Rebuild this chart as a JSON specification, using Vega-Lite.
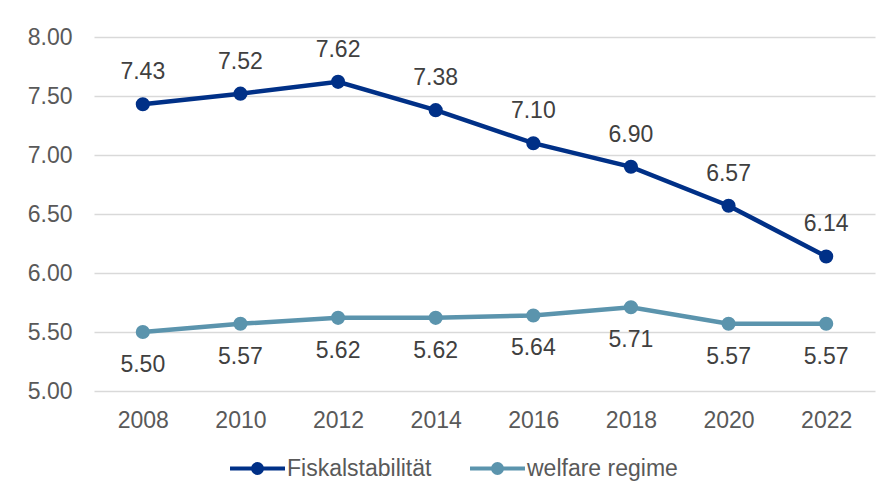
{
  "$schema": "https://vega.github.io/schema/vega-lite/v6.json",
  "width": 781,
  "height": 354,
  "autosize": "none",
  "padding": {"left": 94, "top": 37, "right": 17, "bottom": 113},
  "background": "white",
  "config": {
    "view": {"stroke": null},
    "font": "Liberation Sans",
    "text": {"font": "Liberation Sans"}
  },
  "data": {
    "values": [
      {"year": "2008", "series": "Fiskalstabilität", "value": 7.43},
      {"year": "2010", "series": "Fiskalstabilität", "value": 7.52},
      {"year": "2012", "series": "Fiskalstabilität", "value": 7.62},
      {"year": "2014", "series": "Fiskalstabilität", "value": 7.38},
      {"year": "2016", "series": "Fiskalstabilität", "value": 7.10},
      {"year": "2018", "series": "Fiskalstabilität", "value": 6.90},
      {"year": "2020", "series": "Fiskalstabilität", "value": 6.57},
      {"year": "2022", "series": "Fiskalstabilität", "value": 6.14},
      {"year": "2008", "series": "welfare regime", "value": 5.50},
      {"year": "2010", "series": "welfare regime", "value": 5.57},
      {"year": "2012", "series": "welfare regime", "value": 5.62},
      {"year": "2014", "series": "welfare regime", "value": 5.62},
      {"year": "2016", "series": "welfare regime", "value": 5.64},
      {"year": "2018", "series": "welfare regime", "value": 5.71},
      {"year": "2020", "series": "welfare regime", "value": 5.57},
      {"year": "2022", "series": "welfare regime", "value": 5.57}
    ]
  },
  "encoding": {
    "x": {
      "field": "year", "type": "ordinal",
      "scale": {"type": "point", "padding": 0.5},
      "axis": {
        "title": null, "labelAngle": 0, "domain": false, "ticks": false,
        "labelFont": "Liberation Sans", "labelFontSize": 23, "labelColor": "#595959",
        "labelPadding": 18, "grid": false
      }
    },
    "y": {
      "field": "value", "type": "quantitative",
      "scale": {"domain": [5, 8], "nice": false, "zero": false},
      "axis": {
        "title": null, "values": [5, 5.5, 6, 6.5, 7, 7.5, 8], "format": ".2f",
        "domain": false, "ticks": false,
        "labelFont": "Liberation Sans", "labelFontSize": 23, "labelColor": "#595959",
        "labelPadding": 22, "gridColor": "#d9d9d9", "gridWidth": 1.5
      }
    },
    "color": {
      "field": "series", "type": "nominal",
      "scale": {"domain": ["Fiskalstabilität", "welfare regime"], "range": ["#003087", "#5b94ad"]},
      "legend": {
        "title": null, "orient": "none", "direction": "horizontal",
        "legendX": 152, "legendY": 420, "padding": 0,
        "symbolType": "M-4.58,0H4.58M0.75,0A0.75,0.75 0 1 1 -0.75,0A0.75,0.75 0 1 1 0.75,0M0.3,0A0.3,0.3 0 1 1 -0.3,0A0.3,0.3 0 1 1 0.3,0",
        "symbolSize": 144, "symbolStrokeWidth": 4, "symbolFillColor": "transparent",
        "labelFont": "Liberation Sans", "labelFontSize": 23, "labelColor": "#595959",
        "labelOffset": 18, "columnPadding": 30, "labelLimit": 300
      }
    }
  },
  "layer": [
    {"mark": {"type": "line", "strokeWidth": 4.5}},
    {"mark": {"type": "point", "filled": true, "opacity": 1, "size": 200, "shape": "circle"}},
    {
      "transform": [{"filter": "datum.series === 'Fiskalstabilität'"}],
      "mark": {"type": "text", "dy": -32, "fontSize": 23, "font": "Liberation Sans"},
      "encoding": {"text": {"field": "value", "type": "quantitative", "format": ".2f"}, "color": {"value": "#404040"}}
    },
    {
      "transform": [{"filter": "datum.series === 'welfare regime'"}],
      "mark": {"type": "text", "dy": 33, "fontSize": 23, "font": "Liberation Sans"},
      "encoding": {"text": {"field": "value", "type": "quantitative", "format": ".2f"}, "color": {"value": "#404040"}}
    }
  ]
}
